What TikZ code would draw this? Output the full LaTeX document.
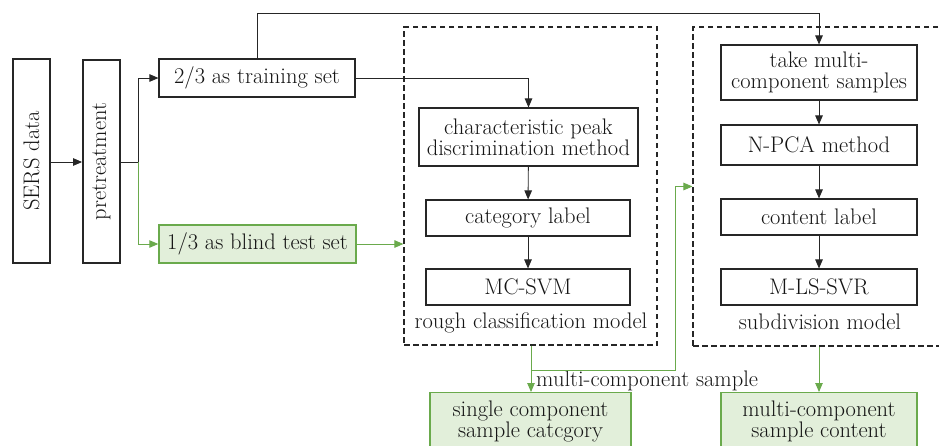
\documentclass[tikz,border=0pt]{standalone}
\usepackage{fontspec}
\setmainfont{Latin Modern Roman}
\usetikzlibrary{arrows.meta}
\definecolor{ink}{HTML}{262626}
\definecolor{txt}{HTML}{151515}
\definecolor{leaf}{HTML}{6AAA4C}
\definecolor{leaffill}{HTML}{E2EFDA}
\tikzset{
  x=1pt, y=-1pt,
  every node/.style={font=\fontsize{22.5}{21}\selectfont, text=txt, align=center, inner sep=0pt},
  box/.style={draw=ink, line width=1.1pt, fill=white, minimum width=#1},
  gbox/.style={draw=leaf, line width=1.4pt, fill=leaffill, minimum width=#1},
  frame/.style={draw=ink, line width=1.2pt, dash pattern=on 5.5pt off 3.5pt},
  link/.style={draw=ink, line width=0.9pt, -{Triangle[length=9pt,width=7.5pt]}},
  glink/.style={draw=leaf, line width=0.9pt, -{Triangle[length=9pt,width=7.5pt]}},
}
\begin{document}
\begin{tikzpicture}
\useasboundingbox (0,0) rectangle (939,445);
\clip (0,0) rectangle (939,445);

% dashed model frames
\node[frame, minimum width=253pt, minimum height=318pt] (rough) at (530.5,186) {};
\node[frame, line width=1.05pt, minimum width=260pt, minimum height=319pt] (subdiv) at (823,186.5) {};

% input stage
\node[box=37pt, minimum height=204pt] (sers) at (31.5,161) {\rotatebox{90}{SERS data}};
\node[box=37pt, minimum height=203pt, line width=1.8pt] (pre) at (101.5,161.5) {\rotatebox{90}{pretreatment}};
\node[box=196pt, minimum height=38pt] (train) at (257,78) {2/3 as training set};
\node[gbox=197pt, minimum height=38pt] (blind) at (257.5,244) {1/3 as blind test set};

% rough classification model
\node[box=219pt, minimum height=58pt] (peak) at (528.5,137) {characteristic peak\\discrimination method};
\node[box=204pt, minimum height=36pt] (cat) at (528,218) {category label};
\node[box=204pt, minimum height=36pt] (mcsvm) at (528,287) {MC-SVM};
\node (roughlbl) at (531,323) {rough classification model};

% subdivision model
\node[box=196pt, minimum height=55pt] (take) at (819,72.5) {take multi-\\component samples};
\node[box=196pt, minimum height=40pt] (npca) at (819,145) {N-PCA method};
\node[box=196pt, minimum height=36pt] (content) at (819,217) {content label};
\node[box=196pt, minimum height=36pt] (mls) at (819,287) {M-LS-SVR};
\node (subdivlbl) at (820,322) {subdivision model};

% outputs
\node[gbox=201pt, minimum height=58pt, anchor=north] (single) at (530.5,392) {single component\\sample catcgory};
\node[gbox=196pt, minimum height=58pt, anchor=north] (multi) at (819,392) {multi-component\\sample content};
\node[anchor=west] (multilbl) at (536,381) {multi-component sample};

\coordinate (split) at (138,162);
\coordinate (merge) at (531,370);

% connectors
\draw[link] (sers.east |- split) -- (pre.west |- split);
\draw[draw=ink, line width=0.9pt] (pre.east |- split) -- (split);
\draw[link] (split) |- (train.west);
\draw[glink] (split) |- (blind.west);
\draw[link] (train.north) -- (257,13) -| (take.north);
\draw[link] (train.east) -| (peak.north);
\draw[glink] (blind.east) -- (blind.east -| rough.west);
\draw[link] (peak) -- (cat);
\draw[link] (cat) -- (mcsvm);
\draw[link] (take) -- (npca);
\draw[link] (npca) -- (content);
\draw[link] (content) -- (mls);
\draw[glink] (rough.south -| merge) -- (single.north -| merge);
\draw[glink] (merge) -- (675,370) |- (subdiv.west);
\draw[glink] (subdiv.south -| multi.north) -- (multi.north);
\end{tikzpicture}
\end{document}
